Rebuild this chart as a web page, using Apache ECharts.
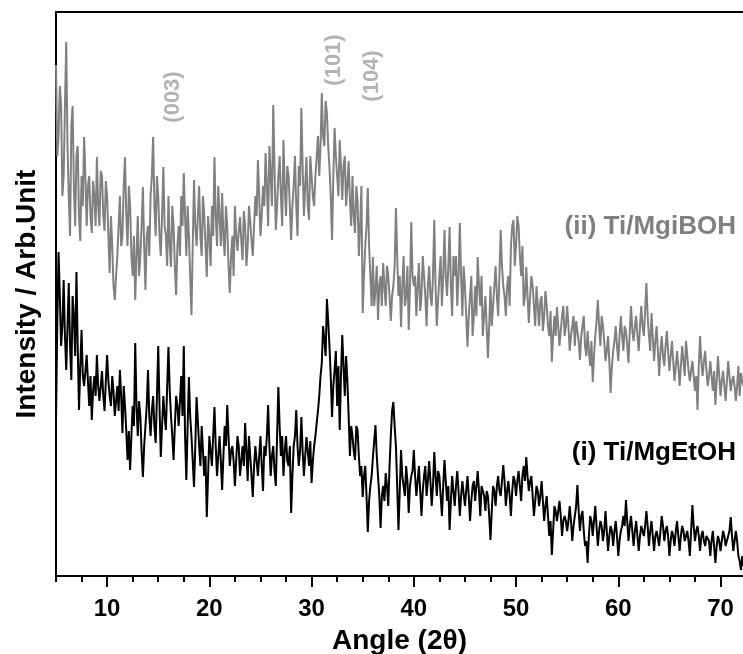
<!DOCTYPE html>
<html>
<head>
<meta charset="utf-8">
<script src="https://cdn.jsdelivr.net/npm/echarts@6/dist/echarts.min.js"></script>
<style>html,body{margin:0;padding:0;background:#fff}#c{width:743px;height:654px}</style>
</head>
<body>
<div id="c"></div>
<script>
// Uniform XRD scan grid (degrees 2θ): readings at 5.00, 5.25, ... and in-between readings at 5.125, 5.375, ...
const angleStart = 5;
const angleStep = 0.125;

// (ii) Ti/MgiBOH (arbitrary intensity) read at 5.00, 5.25, ..., 72.25
const seriesII = [
  511,440,470,400, 534,379,450,390, 420,360,400,439, 350,400,343,380,
  419,350,400,345, 380,303,330,276, 320,380,340,419, 330,370,300,276,
  360,320,389,286, 350,380,439,340, 380,320,409,340, 380,309,350,281,
  350,380,403,320, 340,261,396,330, 390,320,360,299, 340,370,419,330,
  360,383,320,350, 283,340,370,325, 359,316,350,330, 355,320,380,416,
  340,390,423,350, 400,471,346,400, 380,436,360,400, 336,390,370,410,
  468,360,419,356, 400,370,419,400, 483,430,463,409, 336,448,400,436,
  376,420,390,376, 400,343,376,350, 263,330,388,300, 319,286,256,300,
  313,270,300,255, 290,368,280,249, 320,280,246,354, 290,260,313,280,
  300,250,310,270, 356,250,300,270, 346,280,349,260, 300,270,353,260,
  290,229,280,240, 290,319,270,240, 280,218,290,270, 310,260,346,290,
  260,300,330,356, 330,350,300,270, 309,253,300,270, 290,250,280,260,
  270,240,214,260, 269,230,260,240, 270,225,250,230, 245,216,250,230,
  245,210,194,240, 276,230,250,215, 240,183,225,250, 215,260,225,245,
  213,270,235,260, 225,270,240,293, 240,263,215,250, 200,240,210,245,
  205,235,195,225, 190,230,200,220, 195,215,185,166, 240,200,225,190,
  215,185,171,220, 180,205,175,215, 185,200,175,210, 203,190
];
// (ii) readings in between, at 5.125, 5.375, ..., 72.125
const seriesIIMid = [
  420,490,380,470, 430,340,470,350, 430,335,370,400, 390,360,395,350,
  370,405,360,395, 340,360,290,300, 350,330,390,360, 390,320,340,320,
  300,350,330,340, 320,400,370,400, 340,360,350,310, 330,370,310,330,
  320,350,360,370, 300,330,350,360, 340,380,330,360, 310,340,360,390,
  330,340,370,310, 320,300,340,345, 335,365,310,370, 335,350,360,380,
  360,370,390,430, 370,410,370,420, 350,390,410,370, 370,420,340,390,
  410,390,370,420, 380,400,440,430, 440,475,430,380, 400,420,380,410,
  410,370,415,350, 360,390,320,390, 300,350,330,270, 270,310,290,270,
  290,310,280,280, 310,320,300,290, 270,310,290,300, 300,290,265,320,
  280,290,280,300, 290,275,320,300, 300,310,290,320, 320,300,300,310,
  260,260,300,260, 260,290,300,260, 250,250,250,290, 280,300,310,280,
  290,270,350,310, 360,320,330,280, 280,280,290,250, 270,275,245,285,
  250,265,240,240, 250,245,270,250, 250,240,260,255, 235,240,260,220,
  225,235,220,255, 250,260,235,225, 215,210,235,230, 240,240,250,230,
  245,245,250,240, 250,250,265,260, 225,240,235,225, 225,220,230,225,
  220,215,210,210, 210,215,235,205, 205,200,200,210, 215,215,205,200,
  200,205,195,200, 195,190,195,200, 195,190,190,180, 195
];

// (i) Ti/MgEtOH (arbitrary intensity) read at 5.00, 5.25, ..., 72.25
const seriesI = [
  156,324,230,296, 206,293,196,260, 304,166,246,190, 221,170,156,200,
  221,175,205,165, 221,180,200,160, 190,206,143,170, 116,106,170,233,
  140,160,99,150, 206,140,180,133, 230,119,180,146, 229,160,116,180,
  150,200,230,96, 199,140,89,179, 130,150,100,59, 140,110,169,100,
  140,86,150,171, 110,130,90,140, 100,130,153,95, 120,79,130,100,
  140,85,120,171, 100,130,90,189, 120,100,140,110, 63,130,166,110,
  159,100,139,110, 93,130,153,180, 213,236,277,230, 159,206,170,146,
  241,180,196,120, 140,116,146,100, 79,110,44,90, 119,151,100,48,
  90,103,70,140, 174,130,46,126, 90,110,63,100, 126,80,110,60,
  100,80,115,70, 124,80,100,60, 116,75,46,100, 70,105,60,95,
  70,100,55,90, 75,105,60,85, 65,80,36,90, 70,100,80,111,
  70,95,60,100, 80,105,75,110, 119,85,100,60, 90,70,95,55,
  80,40,21,70, 55,75,40,60, 45,70,35,60, 91,45,65,30,
  13,60,40,70, 30,55,35,65, 25,50,30,55, 20,45,60,76,
  35,60,30,55, 25,50,40,65, 30,55,25,45, 30,60,35,50,
  20,45,30,55, 25,50,35,45, 20,71,35,50, 25,45,30,40,
  20,45,13,40, 25,45,30,40, 59,25,45,20, 6,10
];
// (i) readings in between, at 5.125, 5.375, ..., 72.125
const seriesIMid = [
  250,280,250,240, 250,230,280,220, 230,210,200,205, 195,200,185,180,
  190,190,180,195, 195,170,185,175, 165,180,190,145, 145,140,150,170,
  175,125,130,170, 160,165,150,180, 170,150,160,190, 185,140,150,170,
  175,160,140,150, 160,115,130,155, 110,125,120,100, 125,140,130,120,
  115,120,130,140, 125,115,115,130, 115,110,125,140, 100,110,115,120,
  110,130,140,130, 120,105,140,150, 140,125,115,130, 100,140,130,125,
  125,120,125,135, 115,140,165,200, 250,220,255,200, 190,225,210,200,
  210,220,160,150, 125,150,120,110, 100,80,75,100, 135,120,80,80,
  75,90,110,165, 150,90,85,100, 80,95,90,105, 100,95,85,85,
  110,95,95,90, 100,105,80,90, 95,90,75,85, 90,85,80,95,
  85,80,75,95, 90,85,90,80, 85,60,65,85, 90,85,95,95,
  85,80,85,95, 95,90,100,95, 100,95,80,75, 85,80,75,70,
  60,55,45,65, 65,60,55,55, 55,55,50,70, 65,60,45,35,
  40,55,55,50, 45,50,45,45, 40,45,45,40, 35,50,50,55,
  50,45,45,40, 40,50,50,50, 45,40,40,45, 45,50,45,40,
  35,40,45,40, 40,45,40,35, 45,50,45,40, 40,35,40,35,
  35,30,30,35, 35,40,35,45, 40,35,35,15, 20
];

const majorTicks = [10, 20, 30, 40, 50, 60, 70];
const xTitle = 'Angle (2θ)';
const yTitle = 'Intensity / Arb.Unit';
const seriesNames = ['(ii) Ti/MgiBOH', '(i) Ti/MgEtOH'];
const peakLabels = ['(003)', '(101)', '(104)'];

// merge the two sets of readings in scan order and attach the scan angle
function toPairs(main, mid) {
  const out = [];
  for (let i = 0; i < main.length; i++) {
    out.push(main[i]);
    if (i < mid.length) out.push(mid[i]);
  }
  return out.map((v, i) => [angleStart + i * angleStep, v]);
}

const FONT = '"Liberation Sans", Arial, sans-serif';
const chart = echarts.init(document.getElementById('c'));
chart.setOption({
  animation: false,
  grid: { left: 56, right: 0, top: 12, bottom: 78, containLabel: false, outerBoundsMode: 'none' },
  xAxis: [
    {
      type: 'value', min: 5, max: 72.2, interval: 2.5, position: 'bottom',
      axisLine: { show: true, lineStyle: { color: '#000', width: 2 } },
      axisTick: { show: true, length: 6, lineStyle: { color: '#000', width: 2 } },
      splitLine: { show: false },
      axisLabel: {
        show: true, margin: 21, color: '#000', fontSize: 24, fontWeight: 'bold', fontFamily: FONT,
        showMinLabel: true, showMaxLabel: false,
        formatter: v => (majorTicks.indexOf(v) >= 0 ? String(v) : '')
      },
      name: xTitle, nameLocation: 'middle', nameGap: 51,
      nameTextStyle: { color: '#000', fontSize: 28, fontWeight: 'bold', fontFamily: FONT }
    },
    {
      type: 'value', min: 5, max: 72.2, position: 'bottom',
      axisLine: { show: false },
      axisTick: { show: true, length: 11, customValues: majorTicks, lineStyle: { color: '#000', width: 2 } },
      axisLabel: { show: false },
      splitLine: { show: false }
    },
    {
      type: 'value', min: 5, max: 72.2, position: 'top',
      axisLine: { show: true, lineStyle: { color: '#000', width: 2 } },
      axisTick: { show: false }, axisLabel: { show: false }, splitLine: { show: false }
    }
  ],
  yAxis: {
    type: 'value', min: 0, max: 564,
    axisLine: { show: true, lineStyle: { color: '#000', width: 2 } },
    axisTick: { show: false }, axisLabel: { show: false }, splitLine: { show: false },
    name: yTitle, nameLocation: 'middle', nameGap: 15,
    nameTextStyle: { color: '#000', fontSize: 28, fontWeight: 'bold', fontFamily: FONT }
  },
  series: [
    {
      name: seriesNames[0], type: 'line', xAxisIndex: 0, data: toPairs(seriesII, seriesIIMid),
      symbol: 'none', lineStyle: { color: '#808080', width: 2 }, clip: true
    },
    {
      name: seriesNames[1], type: 'line', xAxisIndex: 0, data: toPairs(seriesI, seriesIMid),
      symbol: 'none', lineStyle: { color: '#000', width: 2 }, clip: true
    }
  ],
  graphic: [
    { type: 'text', x: 736, y: 227, style: { text: seriesNames[0], textAlign: 'right', textVerticalAlign: 'middle', font: 'bold 26px ' + FONT, fill: '#808080' } },
    { type: 'text', x: 736, y: 453, style: { text: seriesNames[1], textAlign: 'right', textVerticalAlign: 'middle', font: 'bold 26px ' + FONT, fill: '#000' } },
    { type: 'text', x: 173, y: 97, rotation: Math.PI / 2, style: { text: peakLabels[0], textAlign: 'center', textVerticalAlign: 'middle', font: 'bold 22px ' + FONT, fill: '#b3b3b3' } },
    { type: 'text', x: 334, y: 60, rotation: Math.PI / 2, style: { text: peakLabels[1], textAlign: 'center', textVerticalAlign: 'middle', font: 'bold 22px ' + FONT, fill: '#b3b3b3' } },
    { type: 'text', x: 372, y: 76, rotation: Math.PI / 2, style: { text: peakLabels[2], textAlign: 'center', textVerticalAlign: 'middle', font: 'bold 22px ' + FONT, fill: '#b3b3b3' } }
  ]
});
</script>
</body>
</html>
